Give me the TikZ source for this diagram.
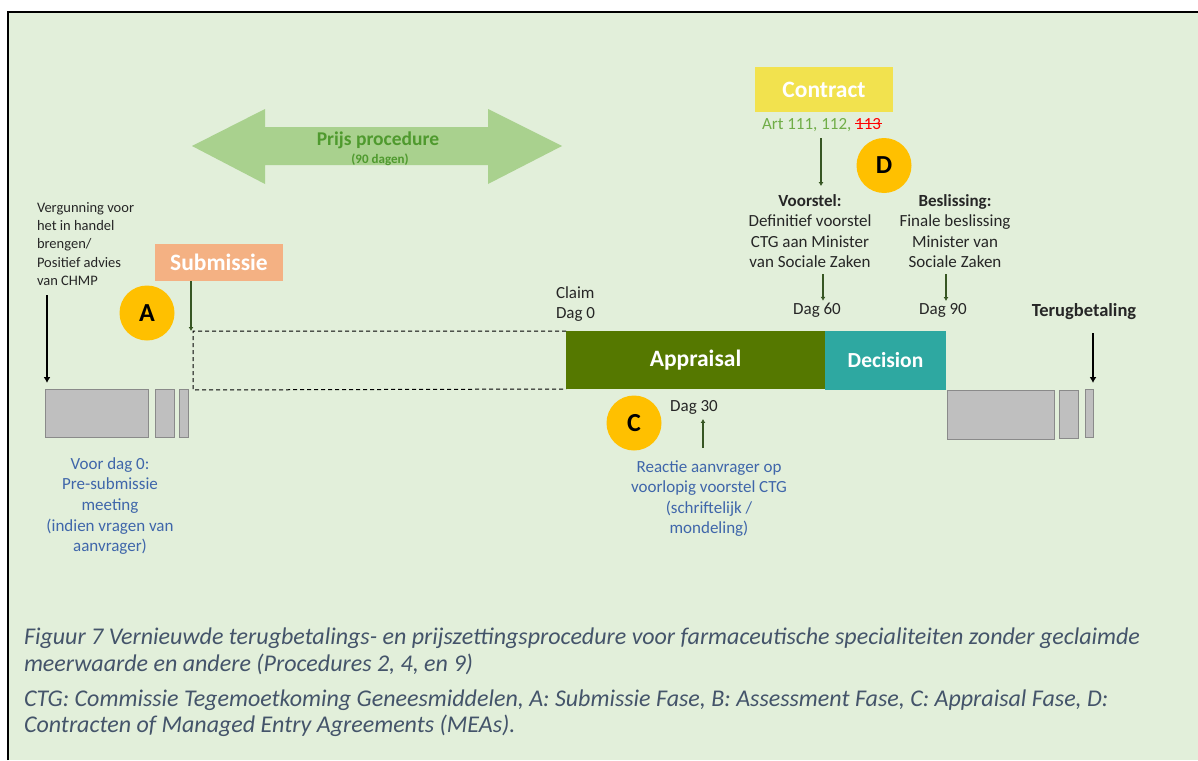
\documentclass[tikz,border=0pt]{standalone}
\usepackage{fontspec}
\setmainfont{Carlito}
\usetikzlibrary{arrows.meta,calc}

\definecolor{panel}{HTML}{E2EFDA}
\definecolor{bandgreen}{HTML}{A9D18E}
\definecolor{prijsgreen}{HTML}{4F9A2E}
\definecolor{salmon}{HTML}{F4B183}
\definecolor{gold}{HTML}{FFC000}
\definecolor{olive}{HTML}{557800}
\definecolor{teal}{HTML}{2EA8A1}
\definecolor{lemon}{HTML}{F2E24E}
\definecolor{darkarrow}{HTML}{375623}
\definecolor{noteblue}{HTML}{3F66AA}
\definecolor{capblue}{HTML}{44546A}
\definecolor{artgreen}{HTML}{70AD47}
\definecolor{boxgray}{HTML}{BFBFBF}
\definecolor{boxedge}{HTML}{8A8A8A}
\definecolor{ink}{HTML}{262626}

\tikzset{
  txt/.style={inner sep=0pt, outer sep=0pt, text=ink, font=\fontsize{17}{20.6}\selectfont, align=center},
  smalltxt/.style={txt, font=\fontsize{14.5}{18.3}\selectfont, align=left},
  bluetxt/.style={txt, text=noteblue},
  phase/.style={inner sep=0pt, outer sep=0pt, text=white, font=\bfseries\fontsize{23.5}{26}\selectfont},
  badge/.style={circle, fill=gold, inner sep=0pt, outer sep=0pt, minimum size=55pt, font=\bfseries\fontsize{26}{28}\selectfont},
  gbox/.style={fill=boxgray, draw=boxedge, line width=0.9pt, inner sep=0pt, outer sep=0pt, anchor=north west},
  tick/.style={darkarrow, line width=1.4pt, -{Latex[length=4pt,width=5pt]}},
  bigarrow/.style={black, line width=1.8pt, -{Latex[length=6pt,width=7pt]}},
  caption/.style={inner sep=0pt, outer sep=0pt, anchor=west, text=capblue, font=\itshape\fontsize{24}{26}\selectfont}
}

\begin{document}
\begin{tikzpicture}[x=1pt,y=-1pt]
\useasboundingbox (0,0) rectangle (1198,760);
\fill[white] (0,0) rectangle (1198,760);
\fill[panel] (8,12) rectangle (1198,760);
\draw[line width=2.5pt] (8,760) -- (8,12) -- (1198,12);

% price procedure band
\fill[bandgreen] (192,146) -- (265,109) -- (265,127) -- (488,127) -- (488,109) -- (562,146)
  -- (488,184) -- (488,165) -- (265,165) -- (265,184) -- cycle;
\node[txt, text=prijsgreen, font=\bfseries\fontsize{19.5}{22}\selectfont] (prijs) at (378,140) {Prijs procedure};
\node[txt, text=prijsgreen, font=\bfseries\fontsize{13}{14}\selectfont] (dagen) at (380,160) {(90 dagen)};

% left part: marketing authorisation and submission
\node[smalltxt, anchor=west] (verg) at (37,244) {Vergunning voor\\het in handel\\brengen/\\Positief advies\\van CHMP};
\node[gbox, minimum width=103pt, minimum height=48pt] (g1) at (45,389) {};
\node[gbox, minimum width=19pt, minimum height=48pt] (g2) at (155,389) {};
\node[gbox, minimum width=9pt, minimum height=48pt] (g3) at (179,389) {};
\coordinate (vtop) at (47,295);
\draw[bigarrow] (vtop) -- ([yshift=6pt]g1.north west -| vtop);

\node[phase, fill=salmon, minimum width=128pt, minimum height=37pt] (sub) at (219,262.5) {Submissie};
\node[badge] (A) at (147,313) {A};
\coordinate (dnw) at (193,331);
\coordinate (dsw) at (193,390);
\coordinate (subx) at (191,331);
\draw[tick] (sub.south -| subx) -- (subx);

\node[bluetxt] (voor) at (110,506) {Voor dag 0:\\Pre-submissie\\meeting\\(indien vragen van\\aanvrager)};

% appraisal and decision
\node[phase, fill=olive, minimum width=259pt, minimum height=58pt] (app) at (695.5,360) {Appraisal};
\node[phase, fill=teal, font=\bfseries\fontsize{21.5}{24}\selectfont, minimum width=121pt, minimum height=59pt] (dec) at (885.5,360.5) {Decision};
\draw[dash pattern=on 4pt off 3pt, line width=1pt] (app.north west) -- (dnw) -- (dsw) -- (app.south west);
\node[txt, align=left, anchor=west] (claim) at (556,304) {Claim\\Dag 0};

\node[badge] (C) at (634,423) {C};
\node[txt] (d30) at (694,407) {Dag 30};
\node[bluetxt] (reactie) at (709,498.5) {Reactie aanvrager op\\voorlopig voorstel CTG\\(schriftelijk /\\mondeling)};
\coordinate (rx) at (703,448);
\draw[tick] (rx) -- ([yshift=-5pt]d30.south -| rx);

% contract
\node[phase, fill=lemon, minimum width=138pt, minimum height=45pt] (contract) at (824,89.5) {Contract};
\node[txt, text=artgreen] (art) at (821.5,125) {Art 111, 112, {\color{red}\rlap{\rule[0.3em]{1.55em}{0.9pt}}113}};
\node[badge] (D) at (884,165.5) {D};
\node[txt] (voorstel) at (810,231) {\textbf{Voorstel:}\\Definitief voorstel\\CTG aan Minister\\van Sociale Zaken};
\node[txt] (besl) at (955,231) {\textbf{Beslissing:}\\Finale beslissing\\Minister van\\Sociale Zaken};
\coordinate (cx) at (821,138);
\draw[tick] (cx) -- ([yshift=8pt]voorstel.north -| cx);

\node[txt] (d60) at (817,310) {Dag 60};
\node[txt] (d90) at (943,310) {Dag 90};
\coordinate (x60) at (823,274);
\coordinate (x90) at (946,274);
\draw[tick] (x60) -- ([yshift=2pt]d60.north -| x60);
\draw[tick] (x90) -- ([yshift=2pt]d90.north -| x90);

% reimbursement
\node[txt, font=\bfseries\fontsize{18.5}{22}\selectfont] (terug) at (1084,312) {Terugbetaling};
\node[gbox, minimum width=107pt, minimum height=49pt] (r1) at (947,390) {};
\node[gbox, minimum width=19pt, minimum height=48pt] (r2) at (1059,390) {};
\node[gbox, minimum width=8pt, minimum height=48pt] (r3) at (1085,389) {};
\draw[bigarrow] ([yshift=-13pt]terug.south -| r3.north east) -- ([yshift=6pt]r3.north east);

% caption
\node[caption] (cap1) at (24,638) {Figuur 7 Vernieuwde terugbetalings- en prijszettingsprocedure voor farmaceutische specialiteiten zonder geclaimde};
\node[caption] (cap2) at (24,664) {meerwaarde en andere (Procedures 2, 4, en 9)};
\node[caption] (cap3) at (24,700) {CTG: Commissie Tegemoetkoming Geneesmiddelen, A: Submissie Fase, B: Assessment Fase, C: Appraisal Fase, D:};
\node[caption] (cap4) at (24,726) {Contracten of Managed Entry Agreements (MEAs).};
\end{tikzpicture}
\end{document}
